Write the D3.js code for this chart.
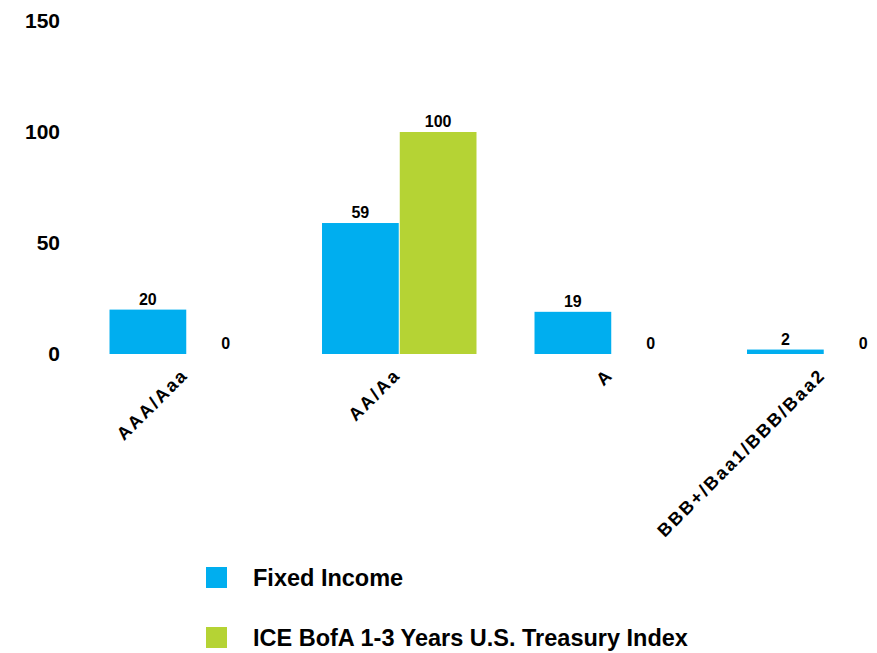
<!DOCTYPE html>
<head>
  <meta charset="utf-8">
  <script src="https://d3js.org/d3.v7.min.js"></script>
  <style>
body { margin: 0; background: #fff; }
svg text {
    font-family: "Liberation Sans", Arial, sans-serif;
    font-weight: 700;
    fill: #000;
}
  </style>
</head>

<body>
  <script>
    // chart data
    var categories = ["AAA/Aaa", "AA/Aa", "A", "BBB+/Baa1/BBB/Baa2"];
    var seriesNames = ["Fixed Income", "ICE BofA 1-3 Years U.S. Treasury Index"];
    var fixedIncome = [20, 59, 19, 2];
    var treasuryIndex = [0, 100, 0, 0];
    var yTicks = [0, 50, 100, 150];
    var colors = ["#00aeef", "#b5d334"];

    var width = 877, height = 653;
    var svg = d3.select("body").append("svg")
      .attr("width", width)
      .attr("height", height);

    var y = d3.scaleLinear().domain([0, 150]).range([354, 21]);

    var x0 = d3.scaleBand().domain(categories)
      .range([80.5, 930.5])
      .paddingInner(0.2635)
      .paddingOuter(0.1318);
    var x1 = d3.scaleBand().domain(seriesNames)
      .range([0, x0.bandwidth()])
      .padding(0.013);

    var color = d3.scaleOrdinal().domain(seriesNames).range(colors);

    var rows = categories.map(function(c, i) {
      return { cat: c, values: [
        { key: seriesNames[0], value: fixedIncome[i] },
        { key: seriesNames[1], value: treasuryIndex[i] }
      ]};
    });

    // y axis labels, no line
    var yAxis = d3.axisLeft(y).tickValues(yTicks).tickSize(0).tickPadding(0);
    var yg = svg.append("g").attr("transform", "translate(60,0)").call(yAxis);
    yg.select(".domain").remove();
    yg.selectAll("text")
      .attr("font-family", null)
      .style("font-size", "21px")
      .attr("dy", "0.33em");

    var groups = svg.selectAll(".grp")
      .data(rows)
      .enter().append("g")
      .attr("class", "grp")
      .attr("transform", function(d) { return "translate(" + x0(d.cat) + ",0)"; });

    groups.selectAll("rect")
      .data(function(d) { return d.values; })
      .enter().append("rect")
      .attr("x", function(d) { return x1(d.key); })
      .attr("y", function(d) { return y(d.value); })
      .attr("width", x1.bandwidth())
      .attr("height", function(d) { return y(0) - y(d.value); })
      .style("fill", function(d) { return color(d.key); });

    groups.selectAll(".val")
      .data(function(d) { return d.values; })
      .enter().append("text")
      .attr("class", "val")
      .attr("x", function(d) { return x1(d.key) + x1.bandwidth() / 2; })
      .attr("y", function(d) { return y(d.value) - 5; })
      .style("font-size", "16px")
      .style("text-anchor", "middle")
      .text(function(d) { return d.value; });

    // rotated category labels
    svg.append("g").selectAll("text")
      .data(categories)
      .enter().append("text")
      .attr("transform", function(d) {
        return "translate(" + (x0(d) + x0.bandwidth() / 2 + 2.5) + "," + 376 + ") rotate(-45)";
      })
      .style("font-size", "18px")
      .style("letter-spacing", "2.2px")
      .style("text-anchor", "end")
      .text(function(d) { return d; });

    // legend
    var legend = svg.append("g").selectAll("g")
      .data(seriesNames)
      .enter().append("g")
      .attr("transform", function(d, i) { return "translate(206," + (567 + i * 60) + ")"; });
    legend.append("rect")
      .attr("width", 21)
      .attr("height", 21)
      .style("fill", function(d) { return color(d); });
    legend.append("text")
      .attr("x", 47)
      .attr("y", 19)
      .style("font-size", "23.5px")
      .text(function(d) { return d; });
  </script>
</body>
